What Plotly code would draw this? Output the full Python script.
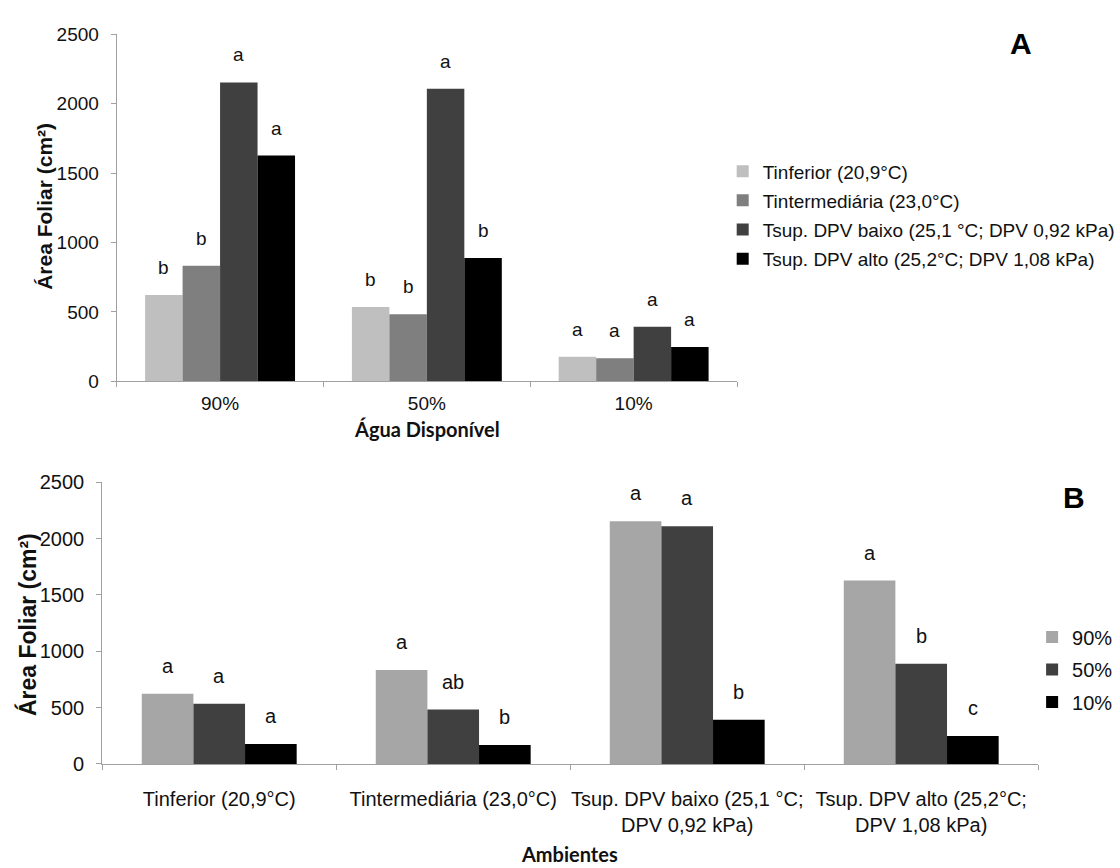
import plotly.graph_objects as go

# Leaf area (cm²) per environment, at 90%, 50% and 10% available water
agua = ["90%", "50%", "10%"]
ambientes_legenda = [
    "Tinferior (20,9°C)",
    "Tintermediária (23,0°C)",
    "Tsup. DPV baixo (25,1 °C; DPV 0,92 kPa)",
    "Tsup. DPV alto (25,2°C; DPV 1,08 kPa)",
]
ambientes_eixo = [
    "Tinferior (20,9°C)",
    "Tintermediária (23,0°C)",
    "Tsup. DPV baixo (25,1 °C;<br>DPV 0,92 kPa)",
    "Tsup. DPV alto (25,2°C;<br>DPV 1,08 kPa)",
]

tinferior = [623, 535, 177]
tintermediaria = [833, 483, 167]
tsup_baixo = [2154, 2109, 393]
tsup_alto = [1627, 888, 247]
areas = [tinferior, tintermediaria, tsup_baixo, tsup_alto]

# Significance letters: panel A compares environments within each water level
letras_a = [
    ["b", "b", "a"],
    ["b", "b", "a"],
    ["a", "a", "a"],
    ["a", "b", "a"],
]
# Panel B compares water levels within each environment
letras_b = [
    ["a", "a", "a", "a"],
    ["a", "ab", "a", "b"],
    ["a", "b", "b", "c"],
]

cores_a = ["#bfbfbf", "#7f7f7f", "#404040", "#000000"]
cores_b = ["#a6a6a6", "#404040", "#000000"]

FONT = "Liberation Sans, Arial, sans-serif"
EIXO = "#a0a0a0"

fig = go.Figure()
anots = []

# ---- Panel A: bars grouped by available water ----
larg_a = 0.725 / 4
for s, (nome, vals, cor) in enumerate(zip(ambientes_legenda, areas, cores_a)):
    off = -0.3625 + s * larg_a
    xs = list(range(len(agua)))
    fig.add_trace(go.Bar(
        x=xs, y=vals, width=larg_a, offset=off, name=nome,
        marker=dict(color=cor, line=dict(width=0)),
        xaxis="x", yaxis="y", legend="legend", legendgroup=f"a{s}",
    ))
    for i, v in enumerate(vals):
        anots.append(dict(
            x=xs[i] + off + larg_a / 2, y=v, xref="x", yref="y",
            text=letras_a[s][i], showarrow=False, yanchor="bottom", yshift=15,
            font=dict(family=FONT, size=19, color="#111"),
        ))

# ---- Panel B: bars grouped by environment ----
larg_b = 0.662 / 3
for s, (nome, cor) in enumerate(zip(agua, cores_b)):
    vals = [a[s] for a in areas]
    off = -0.331 + s * larg_b
    xs = list(range(len(ambientes_eixo)))
    fig.add_trace(go.Bar(
        x=xs, y=vals, width=larg_b, offset=off, name=nome,
        marker=dict(color=cor, line=dict(width=0)),
        xaxis="x2", yaxis="y2", legend="legend2", legendgroup=f"b{s}",
    ))
    for i, v in enumerate(vals):
        anots.append(dict(
            x=xs[i] + off + larg_b / 2, y=v, xref="x2", yref="y2",
            text=letras_b[s][i], showarrow=False, yanchor="bottom", yshift=15,
            font=dict(family=FONT, size=20, color="#111"),
        ))

# Axis titles and panel tags
titulo = dict(family="Lato, " + FONT, color="#111")
centro = dict(xref="paper", yref="paper", showarrow=False, xanchor="center", yanchor="middle")
anots += [
    dict(x=0.0402, y=0.7696, text="<b>Área Foliar (cm²)</b>", textangle=-90,
         font=dict(family=FONT, size=21, color="#111"), **centro),
    dict(x=0.0241, y=0.2753, text="<b>Área Foliar (cm²)</b>", textangle=-90,
         font=dict(family=FONT, size=23, color="#111"), **centro),
    dict(x=0.3821, y=0.5060, text="<b>Água Disponível</b>",
         font=dict(size=20, **titulo), **centro),
    dict(x=0.5098, y=0.0030, text="<b>Ambientes</b>",
         font=dict(size=20, **titulo), **centro),
    dict(x=0.9143, y=0.962, text="<b>A</b>",
         font=dict(family=FONT, size=30, color="#000"), **centro),
    dict(x=0.9616, y=0.4251, text="<b>B</b>",
         font=dict(family=FONT, size=30, color="#000"), **centro),
]

eixo_y = dict(
    range=[0, 2500], tickvals=[0, 500, 1000, 1500, 2000, 2500],
    showline=True, linecolor=EIXO, linewidth=1, ticks="outside", ticklen=5,
    tickcolor=EIXO, showgrid=False, zeroline=False, ticklabelstandoff=8,
)

fig.update_layout(
    width=1120, height=868, margin=dict(l=0, r=0, t=0, b=0),
    paper_bgcolor="white", plot_bgcolor="white",
    barmode="overlay", showlegend=True,
    font=dict(family=FONT, color="#111"),
    xaxis=dict(
        domain=[0.10446, 0.65982], anchor="y", range=[-0.5, 2.5],
        tickvals=[0, 1, 2], ticktext=agua, ticks="",
        minor=dict(tickvals=[-0.5, 0.5, 1.5, 2.5], ticks="outside", ticklen=5,
                   tickcolor=EIXO, showgrid=False),
        showline=True, linecolor=EIXO, showgrid=False, zeroline=False,
        tickfont=dict(size=19), ticklabelstandoff=5,
    ),
    yaxis=dict(domain=[0.56221, 0.97235], anchor="x", tickfont=dict(size=19), **eixo_y),
    xaxis2=dict(
        domain=[0.09152, 0.92946], anchor="y2", range=[-0.5, 3.5],
        tickvals=[0, 1, 2, 3], ticktext=ambientes_eixo, ticks="",
        minor=dict(tickvals=[-0.5, 0.5, 1.5, 2.5, 3.5], ticks="outside", ticklen=5,
                   tickcolor=EIXO, showgrid=False),
        showline=True, linecolor=EIXO, showgrid=False, zeroline=False,
        tickfont=dict(size=20), ticklabelstandoff=17,
    ),
    yaxis2=dict(domain=[0.11002, 0.44297], anchor="x2", tickfont=dict(size=20), **eixo_y),
    legend=dict(x=0.647, y=0.833, xanchor="left", yanchor="top",
                font=dict(size=19, color="#111"), itemwidth=30,
                bgcolor="rgba(0,0,0,0)", tracegroupgap=1.5),
    legend2=dict(x=0.924, y=0.283, xanchor="left", yanchor="top",
                 font=dict(size=20, color="#111"), itemwidth=30,
                 bgcolor="rgba(0,0,0,0)", tracegroupgap=3.5),
    annotations=anots,
)

fig.write_html("out.html")
